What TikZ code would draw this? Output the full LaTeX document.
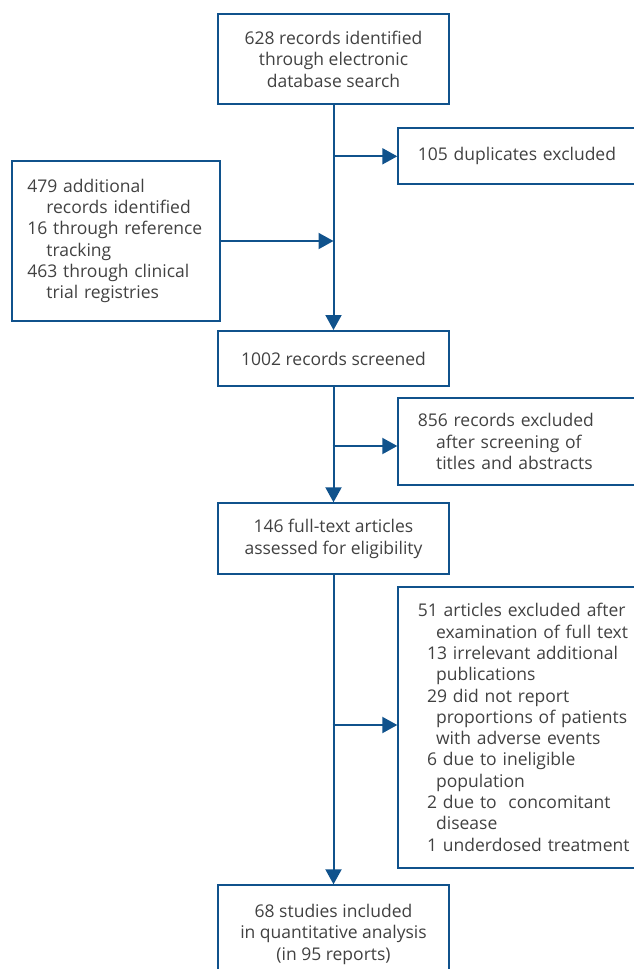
\documentclass[tikz,border=0pt]{standalone}
\usepackage{fontspec}
\setmainfont{Open Sans}
\usetikzlibrary{arrows.meta}
\definecolor{pblue}{RGB}{16,82,140}
\definecolor{ptext}{RGB}{65,65,65}
\begin{document}
\begin{tikzpicture}[x=1pt,y=-1pt,
  box/.style={draw=pblue, line width=2pt, rectangle, anchor=north west, inner sep=0pt, text=ptext, font=\fontsize{17.5}{21.3}\selectfont},
  cbox/.style={box, align=center, minimum width=231.6pt},
  lbox/.style={box, align=left},
  rbox/.style={lbox, minimum width=300pt, text width=261pt},
  arr/.style={draw=pblue, line width=2pt, -{Triangle[length=15pt,width=16pt]}}]
\useasboundingbox (0,0) rectangle (634,969);
\clip (0,0) rectangle (634,969);

\node[cbox, minimum height=90pt] (top) at (216.7,13.3) {628 records identified\\through electronic\\database search};
\node[rbox, minimum height=56pt] (dup) at (397.3,127.3) {105 duplicates excluded};
\node[lbox, minimum width=207.7pt, minimum height=160pt, text width=177pt] (add) at (11,160)
  {\mbox{479 additional}\\\hspace*{19pt}\mbox{records identified}\\\mbox{16 through reference}\\\hspace*{19pt}tracking\\\mbox{463 through clinical}\\\hspace*{19pt}\mbox{trial registries}};
\node[cbox, minimum height=55pt] (scr) at (216.7,330) {1002 records screened};
\node[rbox, minimum height=87.6pt] (ex1) at (397.3,396.7)
  {\mbox{856 records excluded}\\\hspace*{18.3pt}\mbox{after screening of}\\\hspace*{18.3pt}\mbox{titles and abstracts}};
\node[cbox, minimum height=71pt] (full) at (216.7,502.3) {146 full-text articles\\assessed for eligibility};
\node[rbox, minimum height=280.7pt] (ex2) at (397.3,586)
  {\mbox{51 articles excluded after}\\
   \hspace*{18.3pt}\mbox{examination of full text}\\
   \hspace*{9.3pt}\mbox{13 irrelevant additional}\\
   \hspace*{18.3pt}publications\\
   \hspace*{9.3pt}\mbox{29 did not report}\\
   \hspace*{18.3pt}\mbox{proportions of patients}\\
   \hspace*{18.3pt}\mbox{with adverse events}\\
   \hspace*{9.3pt}\mbox{6 due to ineligible}\\
   \hspace*{18.3pt}population\\
   \hspace*{9.3pt}\mbox{2 due to\ \ concomitant}\\
   \hspace*{18.3pt}disease\\
   \hspace*{9.3pt}\mbox{1 underdosed treatment}};
\node[cbox, minimum height=98pt] (inc) at (216.7,884.3) {68 studies included\\in quantitative analysis\\(in 95 reports)};

\coordinate (b1) at (332.5,446);
\coordinate (b2) at (332.5,725);

\draw[arr] (top.south) -- (scr.north);
\draw[arr] (top.south |- dup.west) -- (dup.west);
\draw[arr] (add.east) -- (add.east -| top.south);
\draw[arr] (scr.south) -- (full.north);
\draw[arr] (b1) -- (b1 -| ex1.west);
\draw[arr] (full.south) -- (inc.north);
\draw[arr] (b2) -- (b2 -| ex2.west);
\end{tikzpicture}
\end{document}
